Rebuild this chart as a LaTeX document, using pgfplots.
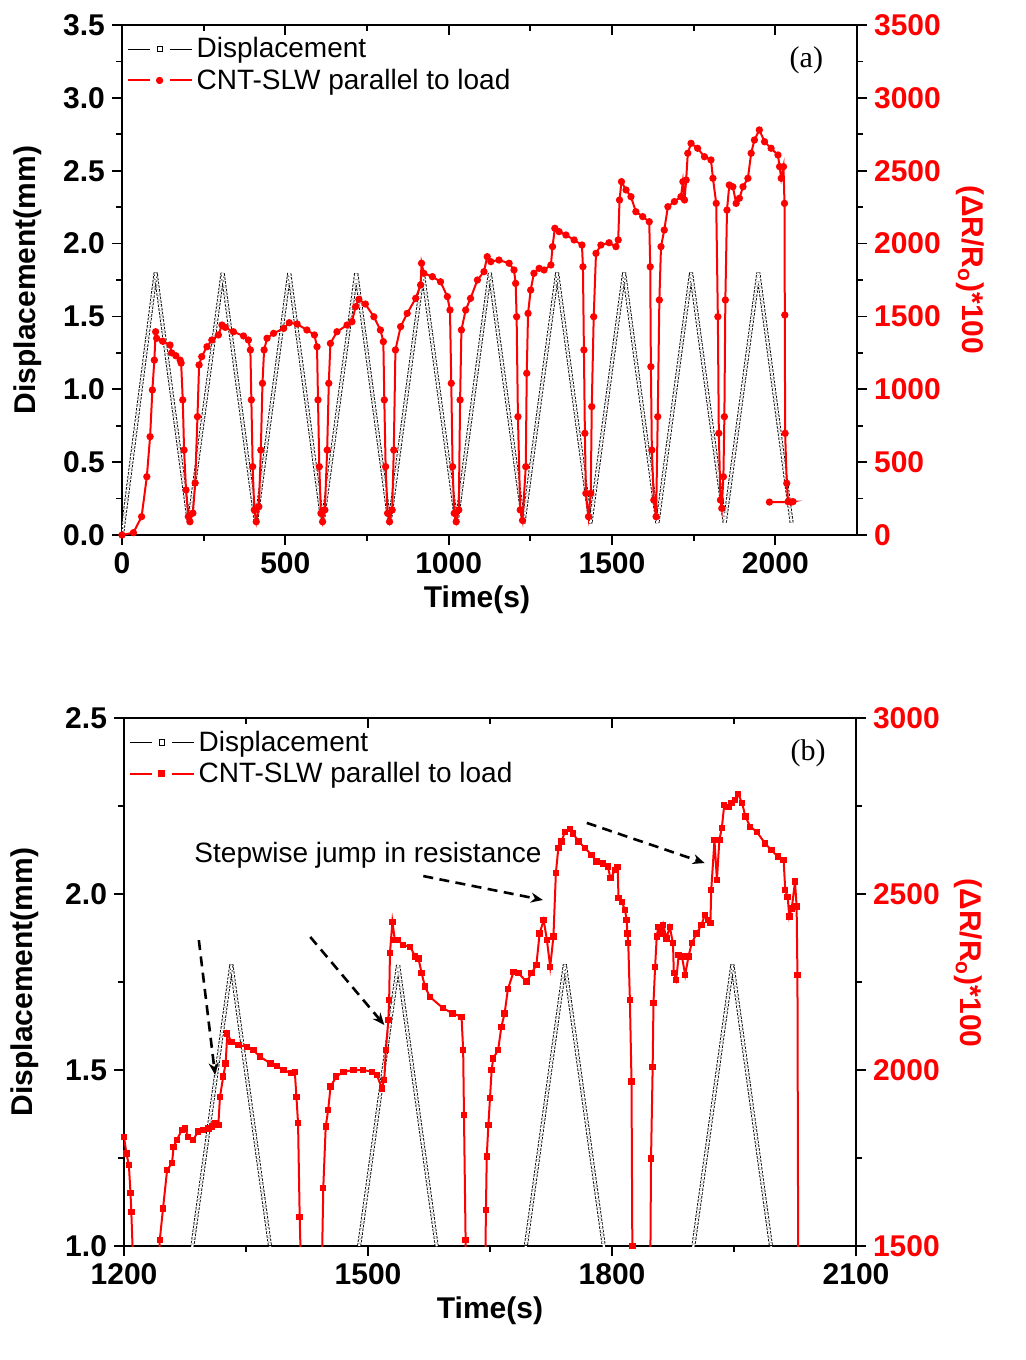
\documentclass[border=0pt]{standalone}
\usepackage{fontspec}
\setmainfont{Liberation Sans}
\newfontfamily\seriffont{Liberation Serif}
\usepackage{pgfplots}
\pgfplotsset{compat=1.18}
\usepackage{pgfplotstable}
\usetikzlibrary{arrows.meta}

\pgfplotstableread{
t d
0 0
103 1.8
205 0.08
308 1.8
410 0.08
512 1.8
614 0.08
717 1.8
819 0.08
921 1.8
1024 0.08
1126 1.8
1229 0.08
1332 1.8
1434 0.08
1537 1.8
1639 0.08
1742 1.8
1845 0.08
1948 1.8
2050 0.08
}\dispdata

\pgfplotstableread{
t R
0 0
35 16
60 126
76 400
86 675
93 995
99 1200
103 1395
106 1350
124 1330
147 1304
152 1250
165 1230
178 1200
181 1180
186 927
190 583
196 309
203 126
208 91
217 150
224 357
231 812
236 1167
244 1224
260 1292
275 1338
295 1373
306 1441
316 1425
341 1395
372 1366
387 1338
393 1270
396 927
400 469
405 172
411 91
419 194
425 583
430 1041
435 1270
444 1350
464 1384
495 1418
512 1457
536 1448
566 1407
589 1373
597 1292
600 927
604 469
609 149
614 91
621 172
628 583
633 1041
638 1315
658 1395
689 1441
704 1464
715 1567
725 1617
745 1585
771 1498
791 1407
800 1327
803 927
807 469
813 149
819 91
827 172
832 583
837 1270
853 1430
873 1521
899 1624
914 1716
917 1865
924 1796
950 1773
975 1738
996 1636
1004 1544
1008 1041
1012 469
1017 149
1023 91
1031 172
1035 927
1039 1407
1052 1544
1067 1624
1088 1750
1108 1807
1118 1910
1129 1876
1154 1887
1185 1865
1200 1819
1205 1727
1208 1498
1212 812
1219 172
1226 100
1236 469
1239 1110
1243 1521
1251 1681
1261 1796
1277 1830
1292 1819
1313 1853
1318 1979
1325 2105
1338 2082
1359 2059
1384 2025
1408 1990
1411 1841
1414 1270
1417 698
1420 286
1428 126
1435 286
1438 881
1444 1498
1451 1933
1466 1990
1491 2006
1512 1979
1519 2025
1523 2299
1529 2425
1543 2368
1558 2322
1573 2219
1594 2185
1614 2150
1617 1841
1619 1155
1622 583
1628 240
1635 126
1640 812
1645 1613
1650 1979
1660 2093
1671 2253
1691 2288
1711 2322
1717 2425
1722 2299
1727 2436
1732 2620
1742 2688
1762 2654
1783 2596
1803 2574
1809 2448
1819 2276
1824 1498
1827 698
1832 240
1836 183
1841 400
1844 812
1847 1613
1852 2230
1859 2402
1870 2390
1880 2276
1890 2311
1901 2390
1916 2448
1926 2620
1936 2711
1951 2780
1967 2699
1987 2654
2008 2608
2013 2528
2018 2448
2025 2528
2028 2276
2029 1510
2030 698
2035 355
2039 229
2054 229
2048 226
1982 226
}\resA

\pgfplotstableread{
t R
1190 1850
1200 1810
1203 1763
1206 1730
1208 1650
1209 1597
1212 1400
1226 100
1242 1400
1244 1517
1248 1607
1253 1716
1259 1735
1261 1782
1265 1801
1271 1830
1275 1834
1279 1810
1285 1801
1291 1825
1297 1830
1304 1834
1308 1839
1312 1849
1316 1844
1318 1924
1322 1981
1325 2019
1327 2104
1332 2080
1341 2071
1351 2066
1359 2057
1367 2038
1380 2019
1388 2011
1396 2000
1406 1991
1410 1995
1412 1924
1414 1849
1416 1583
1418 1400
1428 120
1443 1400
1445 1664
1448 1839
1451 1886
1454 1953
1461 1981
1470 1995
1482 2000
1494 2000
1505 1995
1511 1986
1517 1948
1520 1972
1522 2057
1525 2142
1526 2199
1527 2332
1530 2421
1533 2369
1537 2369
1543 2355
1552 2350
1558 2322
1562 2317
1566 2275
1570 2237
1576 2208
1592 2176
1604 2161
1615 2151
1617 2057
1618 1872
1620 1517
1621 1400
1635 120
1644 1400
1645 1602
1646 1754
1648 1844
1650 1920
1652 2000
1654 2033
1660 2057
1664 2123
1668 2161
1672 2230
1679 2279
1685 2275
1695 2251
1701 2275
1707 2298
1711 2388
1716 2426
1720 2369
1724 2293
1728 2379
1731 2560
1734 2630
1738 2649
1742 2677
1748 2684
1752 2672
1759 2649
1767 2630
1775 2611
1781 2592
1789 2587
1795 2578
1798 2545
1804 2568
1807 2576
1808 2488
1812 2478
1816 2455
1818 2426
1819 2388
1820 2360
1822 2199
1824 1967
1825 1500
1826 1400
1836 180
1847 1400
1848 1749
1850 2009
1851 2190
1853 2293
1855 2379
1857 2407
1861 2388
1863 2412
1867 2374
1871 2407
1875 2360
1876 2275
1879 2256
1882 2327
1886 2322
1890 2270
1894 2322
1898 2360
1904 2388
1910 2412
1914 2440
1918 2426
1921 2417
1922 2511
1926 2653
1929 2540
1932 2653
1935 2687
1938 2753
1943 2748
1947 2758
1951 2767
1955 2784
1960 2758
1964 2720
1970 2691
1978 2677
1988 2644
1996 2625
2004 2606
2011 2597
2013 2511
2016 2492
2018 2436
2021 2459
2025 2535
2027 2464
2028 2270
2029 1400
2039 229
}\resB

\pgfplotsset{
  common/.style={
    scale only axis,
    axis line style={line width=1pt},
    tick style={black, line width=0.9pt},
    major tick length=5pt,
    minor tick length=2.8pt,
    tick align=outside,
    tick label style={font=\fontsize{15}{18}\selectfont\bfseries},
    label style={font=\fontsize{15}{18}\selectfont\bfseries},
    /pgf/number format/assume math mode=true,
    /pgf/number format/1000 sep={},
    scaled ticks=false,
    clip=true,
  },
  disp/.style={draw=black, line width=0.45pt, double=white, double distance=1.1pt,
    dash pattern=on 1.2pt off 0.7pt, line join=bevel, mark=none},
  leg/.style={
    legend style={draw=none, fill=none, at={(0.003,0.988)}, anchor=north west,
      font=\fontsize{14}{16.5}\selectfont, inner sep=1pt, row sep=0pt},
    legend cell align=left,
    legend image code/.code={
      \draw[##1, mark=none] (0pt,0pt) -- (11pt,0pt);
      \draw[##1, mark=none] (21pt,0pt) -- (32pt,0pt);
      \draw[##1] plot[only marks] coordinates {(16pt,0pt)};
    },
  },
  redline/.style={red, line width=1.0pt, mark options={fill=red, draw=red}},
}

\begin{document}
\begin{tikzpicture}
\path[use as bounding box] (0pt,0pt) rectangle (513pt,-680pt);

% ---------------- panel (a) ----------------
\begin{axis}[common,
  at={(61pt,-267.5pt)}, anchor=south west, width=367.5pt, height=255pt,
  xmin=0, xmax=2250, ymin=0, ymax=3.5,
  xtick={0,500,1000,1500,2000}, minor x tick num=1,
  ytick={0,0.5,1,1.5,2,2.5,3,3.5}, minor y tick num=1,
  xtick pos=left, ytick pos=left,
  yticklabel style={/pgf/number format/.cd, fixed, fixed zerofill, precision=1},
  xlabel={Time(s)}, ylabel={Displacement(mm)},
  xlabel style={at={(axis description cs:0.483,-0.126)}, anchor=center},
  ylabel style={at={(axis description cs:-0.128,0.5)}, anchor=center},
]
\addplot[disp] table[x=t, y=d] {\dispdata};
\node[font=\seriffont\fontsize{15}{18}\selectfont] at (axis cs:2095,3.26) {(a)};
\end{axis}

\begin{axis}[common, leg,
  at={(61pt,-267.5pt)}, anchor=south west, width=367.5pt, height=255pt,
  xmin=0, xmax=2250, ymin=0, ymax=3500,
  axis x line=none, axis y line*=right,
  ytick={0,500,1000,1500,2000,2500,3000,3500}, minor y tick num=1,
  yticklabel style={red},
  ylabel={(ΔR/R\textsubscript{o})*100},
  ylabel style={red, at={(axis description cs:1.154,0.52)}, anchor=center, rotate=180},
]
\addlegendimage{black, line width=0.5pt, mark=square, mark size=1.3pt, mark options={solid, line width=0.4pt}}
\addlegendentry{Displacement}
\addplot[redline, mark=*, mark size=1.3pt] table[x=t, y=R] {\resA};
\addlegendentry{CNT-SLW parallel to load}
\end{axis}

\begin{axis}[common,
  at={(61pt,-267.5pt)}, anchor=south west, width=367.5pt, height=255pt,
  xmin=0, xmax=2250, ymin=0, ymax=1,
  axis y line=none, axis x line*=top, tick align=inside,
  xtick={0,500,1000,1500,2000}, minor x tick num=1, xticklabels={},
]
\end{axis}

% ---------------- panel (b) ----------------
\begin{axis}[common,
  at={(62pt,-623pt)}, anchor=south west, width=366pt, height=264pt,
  xmin=1200, xmax=2100, ymin=1, ymax=2.5,
  xtick={1200,1500,1800,2100}, minor x tick num=1,
  ytick={1,1.5,2,2.5}, minor y tick num=1,
  xtick pos=left, ytick pos=left,
  yticklabel style={/pgf/number format/.cd, fixed, fixed zerofill, precision=1},
  xlabel={Time(s)}, ylabel={Displacement(mm)},
  xlabel style={at={(axis description cs:0.5,-0.122)}, anchor=center},
  ylabel style={at={(axis description cs:-0.135,0.5)}, anchor=center},
]
\addplot[disp] table[x=t, y=d] {\dispdata};
\node[font=\seriffont\fontsize{15}{18}\selectfont] at (axis cs:2041,2.40) {(b)};
\node[font=\fontsize{14}{17}\selectfont] at (axis cs:1500,2.111) {Stepwise jump in resistance};
\begin{scope}[black, line width=1.3pt, dash pattern=on 5pt off 3.2pt]
\draw[-{Stealth[length=6pt,width=5pt]}] (axis cs:1292,1.869) -- (axis cs:1312,1.486);
\draw[-{Stealth[length=6pt,width=5pt]}] (axis cs:1429,1.878) -- (axis cs:1520,1.628);
\draw[-{Stealth[length=6pt,width=5pt]}] (axis cs:1568,2.051) -- (axis cs:1715,1.983);
\draw[-{Stealth[length=6pt,width=5pt]}] (axis cs:1769,2.202) -- (axis cs:1914,2.088);
\end{scope}
\end{axis}

\begin{axis}[common, leg,
  at={(62pt,-623pt)}, anchor=south west, width=366pt, height=264pt,
  xmin=1200, xmax=2100, ymin=1500, ymax=3000,
  axis x line=none, axis y line*=right,
  ytick={1500,2000,2500,3000}, minor y tick num=1,
  yticklabel style={red},
  ylabel={(ΔR/R\textsubscript{o})*100},
  ylabel style={red, at={(axis description cs:1.153,0.536)}, anchor=center, rotate=180},
]
\addlegendimage{black, line width=0.5pt, mark=square, mark size=1.3pt, mark options={solid, line width=0.4pt}}
\addlegendentry{Displacement}
\addplot[redline, mark=square*, mark size=1.1pt] table[x=t, y=R] {\resB};
\addlegendentry{CNT-SLW parallel to load}
\end{axis}

\begin{axis}[common,
  at={(62pt,-623pt)}, anchor=south west, width=366pt, height=264pt,
  xmin=1200, xmax=2100, ymin=0, ymax=1,
  axis y line=none, axis x line*=top, tick align=inside,
  xtick={1200,1500,1800,2100}, minor x tick num=1, xticklabels={},
]
\end{axis}
\end{tikzpicture}
\end{document}
